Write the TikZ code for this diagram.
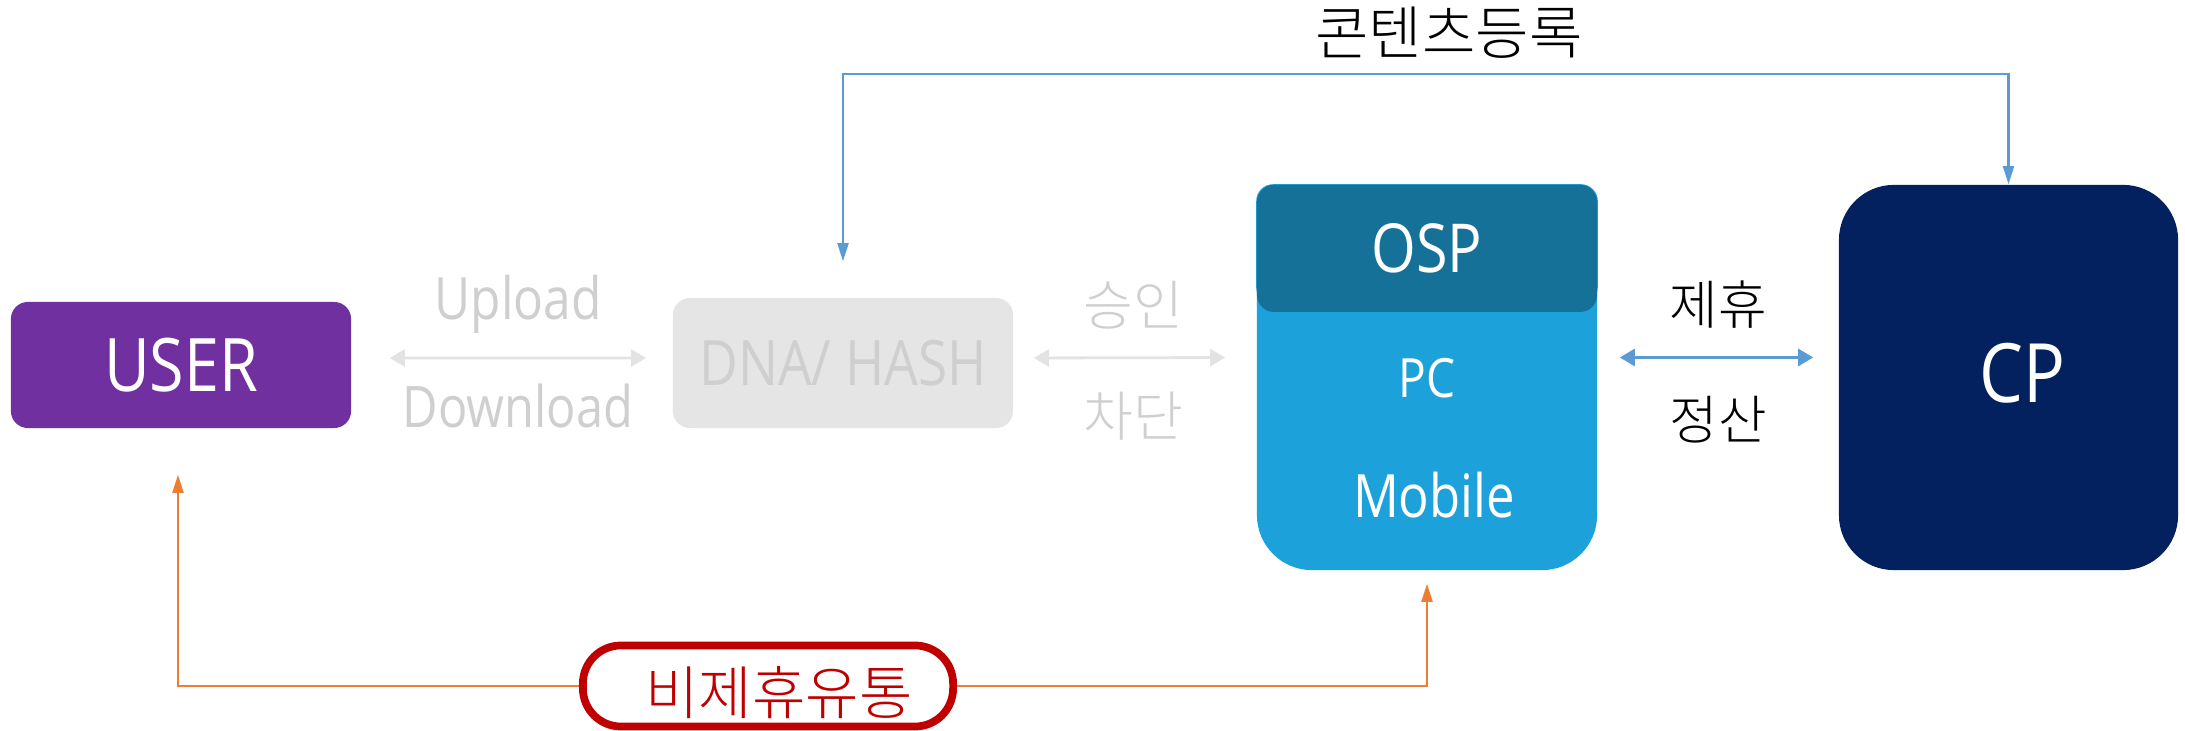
\documentclass[tikz,border=0pt]{standalone}
\usepackage{fontspec}
\setmainfont{Open Sans}[FakeStretch=0.85]
\newfontfamily\kr{Noto Sans CJK KR}[UprightFont=* Light]
\usetikzlibrary{arrows.meta}
\definecolor{upurple}{HTML}{7030A0}
\definecolor{dnafill}{HTML}{E5E5E5}
\definecolor{dnatext}{HTML}{CFCFCF}
\definecolor{garrow}{HTML}{E3E3E3}
\definecolor{osplight}{HTML}{1CA1DA}
\definecolor{ospdark}{HTML}{167199}
\definecolor{cpnavy}{HTML}{03215E}
\definecolor{barrow}{HTML}{5B9BD5}
\definecolor{oarrow}{HTML}{ED7D31}
\definecolor{dred}{HTML}{C00000}
\tikzset{
  box/.style={inner sep=0pt, text=white, align=center},
  graytip/.style={line width=0.8pt, draw=garrow, {Triangle[length=0.15cm,width=0.17cm]}-{Triangle[length=0.15cm,width=0.17cm]}},
  bluetip/.style={line width=0.8pt, draw=barrow, {Triangle[length=0.15cm,width=0.17cm]}-{Triangle[length=0.15cm,width=0.17cm]}},
  topline/.style={line width=0.6pt, draw=barrow, {Triangle[length=0.18cm,width=0.11cm]}-{Triangle[length=0.18cm,width=0.11cm]}},
  orangeline/.style={line width=0.6pt, draw=oarrow, -{Triangle[length=0.18cm,width=0.11cm]}},
  lbl/.style={inner sep=0pt},
}
\begin{document}
\begin{tikzpicture}[x=0.01cm,y=-0.01cm]
\useasboundingbox (0,0) rectangle (2185,731);
% boxes
\node[box, fill=upurple, minimum width=3.4cm, minimum height=1.26cm, rounded corners=0.17cm] (user) at (181,365) {\fontsize{21}{24}\selectfont USER};
\node[box, fill=dnafill, text=dnatext, minimum width=3.4cm, minimum height=1.3cm, rounded corners=0.17cm] (dna) at (843,363) {\fontsize{17.8}{21}\selectfont DNA/ HASH};
\node[box, fill=osplight, minimum width=3.4cm, minimum height=3.85cm, rounded corners=0.55cm] (osp) at (1427,377.5) {};
\fill[osplight, rounded corners=0.17cm] (osp.north west) rectangle ([yshift=-1.2cm]osp.north east);
\node[box, fill=ospdark, minimum width=3.4cm, minimum height=1.27cm, rounded corners=0.17cm, anchor=north] (hdr) at (osp.north) {\fontsize{19.2}{22}\selectfont OSP};
\node[box] (pc) at (1427,378) {\fontsize{15.4}{18}\selectfont PC};
\node[box] (mob) at (1434,495) {\fontsize{17}{20}\selectfont Mobile};
\node[box, fill=cpnavy, minimum width=3.39cm, minimum height=3.85cm, rounded corners=0.55cm] (cp) at (2008.5,377.5) {};
\node[box] (cpt) at (2022,373) {\fontsize{23.3}{28}\selectfont CP};
% labels
\node[lbl, text=dnatext] (up) at (518,304) {\fontsize{16.6}{19}\selectfont Upload};
\node[lbl, text=dnatext] (down) at (518,406) {\fontsize{16.3}{19}\selectfont Download};
\node[lbl, text=dnatext] (ok) at (1133,305) {\kr\fontsize{15.4}{18}\selectfont 승인};
\node[lbl, text=dnatext] (block) at (1133,416) {\kr\fontsize{15.4}{18}\selectfont 차단};
\node[lbl] (aff) at (1718,305) {\kr\fontsize{15}{18}\selectfont 제휴};
\node[lbl] (settle) at (1718,420) {\kr\fontsize{15}{18}\selectfont 정산};
\node[lbl] (reg) at (1449,33) {\kr\fontsize{16.5}{19}\selectfont 콘텐츠등록};
\coordinate (topy) at (1316,74);
% connectors
\draw[graytip, shorten <=0.38cm, shorten >=0.26cm] ([yshift=0.07cm]user.east) -- ([yshift=0.05cm]dna.west);
\draw[graytip, shorten <=0.2cm, shorten >=0.31cm] ([yshift=0.05cm]dna.east) -- ([yshift=0.2cm]osp.west);
\draw[bluetip, shorten <=0.22cm, shorten >=0.25cm] ([yshift=0.2cm]osp.east) -- ([yshift=0.2cm]cp.west);
\draw[topline, shorten <=0.36cm] (dna.north) |- (topy) -| (cp.north);
% non-affiliated distribution
\node[draw=dred, line width=2.2pt, fill=white, minimum width=3.7cm, minimum height=0.81cm, rounded corners=0.38cm, inner sep=0pt] (nd) at (768,686) {};
\node[lbl, text=dred] (ndt) at (779,693) {\kr\fontsize{16.5}{19}\selectfont 비제휴유통};
\draw[orangeline, shorten >=0.46cm] (nd.west) -| ([xshift=-0.03cm]user.south);
\draw[orangeline, shorten >=0.13cm] (nd.east) -| (osp.south);
\end{tikzpicture}
\end{document}
